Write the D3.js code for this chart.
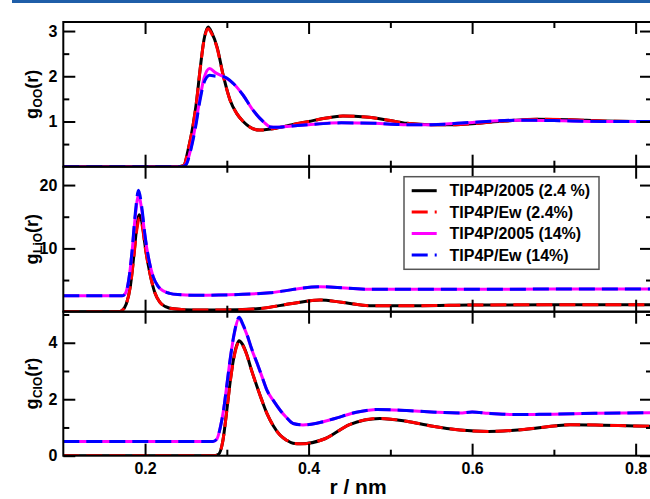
<!DOCTYPE html>
<html>
<head>
<meta charset="utf-8">
<script src="https://cdn.jsdelivr.net/npm/d3@7"></script>
<style>
  html, body { margin: 0; padding: 0; background: #fff; }
  svg { display: block; font-family: "Liberation Sans", Arial, sans-serif; font-weight: bold; }
</style>
</head>
<body>
<svg id="chart" width="650" height="499"></svg>
<script>
// g_OO(r)
const ooR24 = [0.10, 0.240, 0.247, 0.253, 0.259, 0.263, 0.267, 0.272, 0.277, 0.282, 0.288, 0.296, 0.304, 0.312, 0.320, 0.328, 0.340, 0.360, 0.380, 0.400, 0.420, 0.442, 0.470, 0.500, 0.520, 0.550, 0.580, 0.600, 0.640, 0.680, 0.720, 0.760, 0.800, 0.820];
const ooTip2005_24 = [0, 0, 0.02, 0.40, 0.95, 1.45, 2.10, 2.80, 3.09, 2.95, 2.65, 1.99, 1.47, 1.18, 1.00, 0.88, 0.81, 0.85, 0.93, 1.00, 1.07, 1.12, 1.10, 1.02, 0.96, 0.93, 0.93, 0.95, 1.01, 1.05, 1.04, 1.01, 1.00, 1.00];
const ooEw_24 = [0, 0, 0.02, 0.40, 0.95, 1.45, 2.10, 2.78, 3.05, 2.92, 2.63, 1.98, 1.47, 1.18, 1.00, 0.88, 0.81, 0.85, 0.93, 1.00, 1.07, 1.12, 1.10, 1.02, 0.96, 0.93, 0.93, 0.95, 1.01, 1.05, 1.04, 1.01, 1.00, 1.00];
const ooR14 = [0.10, 0.245, 0.250, 0.256, 0.262, 0.267, 0.272, 0.279, 0.286, 0.296, 0.308, 0.320, 0.332, 0.345, 0.353, 0.360, 0.380, 0.400, 0.440, 0.480, 0.520, 0.550, 0.600, 0.660, 0.700, 0.760, 0.820];
const ooTip2005_14 = [0, 0, 0.05, 0.40, 0.95, 1.50, 1.95, 2.17, 2.08, 1.99, 1.84, 1.58, 1.25, 0.99, 0.88, 0.87, 0.90, 0.93, 0.97, 0.96, 0.93, 0.93, 0.98, 1.03, 1.02, 1.00, 1.00];
const ooEw_14 = [0, 0, 0.04, 0.38, 0.90, 1.45, 1.85, 2.02, 2.00, 1.99, 1.84, 1.58, 1.25, 0.99, 0.88, 0.87, 0.90, 0.93, 0.97, 0.96, 0.93, 0.93, 0.98, 1.03, 1.02, 1.00, 1.00];

// g_LiO(r)
const lioR24 = [0.10, 0.168, 0.172, 0.177, 0.182, 0.186, 0.190, 0.193, 0.197, 0.200, 0.206, 0.212, 0.218, 0.225, 0.235, 0.260, 0.290, 0.340, 0.380, 0.414, 0.440, 0.475, 0.536, 0.597, 0.700, 0.820];
const lioTip2005_24 = [0, 0, 0.2, 1.2, 4.0, 8.5, 13.5, 15.3, 13.5, 10.5, 6.0, 3.0, 1.5, 0.8, 0.45, 0.25, 0.26, 0.5, 1.3, 1.84, 1.5, 0.95, 0.95, 1.05, 1.1, 1.1];
const lioEw_24 = [0, 0, 0.2, 1.2, 4.0, 8.3, 13.0, 14.8, 13.2, 10.3, 6.0, 3.0, 1.5, 0.8, 0.45, 0.25, 0.26, 0.5, 1.3, 1.84, 1.5, 0.95, 0.95, 1.05, 1.1, 1.1];
const lioR14 = [0.10, 0.172, 0.176, 0.180, 0.184, 0.188, 0.192, 0.196, 0.200, 0.205, 0.210, 0.216, 0.222, 0.230, 0.240, 0.260, 0.290, 0.353, 0.414, 0.475, 0.536, 0.600, 0.700, 0.820];
const lioTip2005_14 = [2.5, 2.5, 2.9, 5.0, 9.3, 15.0, 18.4, 16.0, 11.8, 8.0, 5.5, 4.0, 3.3, 2.9, 2.7, 2.6, 2.63, 3.0, 3.95, 3.53, 3.53, 3.55, 3.57, 3.58];
const lioEw_14 = [2.5, 2.5, 2.9, 5.0, 9.5, 15.5, 19.2, 16.5, 12.0, 8.0, 5.5, 4.0, 3.3, 2.9, 2.7, 2.6, 2.63, 3.0, 3.95, 3.53, 3.53, 3.55, 3.57, 3.58];

// g_ClO(r)
const cloR24 = [0.10, 0.285, 0.290, 0.295, 0.300, 0.304, 0.308, 0.312, 0.315, 0.319, 0.324, 0.330, 0.337, 0.343, 0.349, 0.357, 0.365, 0.373, 0.381, 0.390, 0.420, 0.450, 0.487, 0.520, 0.550, 0.585, 0.620, 0.660, 0.700, 0.720, 0.760, 0.800, 0.820];
const cloTip2005_24 = [0, 0, 0.05, 0.5, 1.62, 2.6, 3.39, 3.9, 4.07, 3.95, 3.62, 3.05, 2.44, 1.95, 1.5, 1.05, 0.73, 0.55, 0.44, 0.42, 0.6, 1.1, 1.32, 1.22, 1.05, 0.91, 0.86, 0.92, 1.05, 1.1, 1.08, 1.05, 1.04];
const cloEw_24 = [0, 0, 0.05, 0.5, 1.6, 2.58, 3.36, 3.87, 4.04, 3.93, 3.6, 3.04, 2.44, 1.95, 1.5, 1.05, 0.73, 0.55, 0.44, 0.42, 0.6, 1.1, 1.32, 1.22, 1.05, 0.91, 0.86, 0.92, 1.05, 1.1, 1.08, 1.05, 1.04];
const cloR14 = [0.10, 0.283, 0.288, 0.292, 0.296, 0.300, 0.304, 0.309, 0.315, 0.320, 0.324, 0.330, 0.337, 0.343, 0.349, 0.357, 0.365, 0.373, 0.381, 0.393, 0.410, 0.430, 0.460, 0.484, 0.520, 0.550, 0.585, 0.600, 0.620, 0.650, 0.700, 0.750, 0.820];
const cloTip2005_14 = [0.5, 0.5, 0.6, 1.0, 1.62, 2.5, 3.39, 4.3, 4.86, 4.6, 4.33, 3.8, 3.27, 2.8, 2.32, 1.95, 1.62, 1.35, 1.14, 1.09, 1.15, 1.3, 1.55, 1.64, 1.6, 1.55, 1.51, 1.55, 1.5, 1.46, 1.47, 1.5, 1.52];
const cloEw_14 = [0.5, 0.5, 0.6, 1.0, 1.62, 2.5, 3.4, 4.33, 4.9, 4.63, 4.35, 3.82, 3.28, 2.8, 2.32, 1.95, 1.62, 1.35, 1.14, 1.09, 1.15, 1.3, 1.55, 1.64, 1.6, 1.55, 1.51, 1.55, 1.5, 1.46, 1.47, 1.5, 1.52];

const legendLabels = ['TIP4P/2005 (2.4 %)', 'TIP4P/Ew (2.4%)', 'TIP4P/2005 (14%)', 'TIP4P/Ew (14%)'];
const seriesColors = ['#000000', '#ff0000', '#ff00ff', '#0000ff'];
const seriesDashed = [false, true, false, true];

const xMajor = [0.2, 0.4, 0.6, 0.8];
const xMinor = [0.3, 0.5, 0.7];

const panels = [
    { sub: 'OO', top: 22, bottom: 166.7, domain: [0, 3.2], major: [1, 2, 3], minor: [0.5, 1.5, 2.5],
      series: [[ooR24, ooTip2005_24], [ooR24, ooEw_24], [ooR14, ooTip2005_14], [ooR14, ooEw_14]] },
    { sub: 'LiO', top: 166.7, bottom: 311.7, domain: [0, 22.9], major: [10, 20], minor: [5, 15],
      series: [[lioR24, lioTip2005_24], [lioR24, lioEw_24], [lioR14, lioTip2005_14], [lioR14, lioEw_14]] },
    { sub: 'ClO', top: 311.7, bottom: 455.7, domain: [0, 5.1], major: [0, 2, 4], minor: [1, 3, 5],
      series: [[cloR24, cloTip2005_24], [cloR24, cloEw_24], [cloR14, cloTip2005_14], [cloR14, cloEw_14]] }
];

const left = 63.3, right = 652;
const svg = d3.select('#chart');

// header rule of the page
svg.append('rect')
    .attr('x', 12).attr('y', 0)
    .attr('width', 638).attr('height', 3)
    .attr('fill', '#1f5ea8');

const xScale = d3.scaleLinear().domain([0.1, 0.82]).range([left, right]);
const dash = '16,7';

const styleAxis = g => {
    g.select('.domain').remove();
    g.selectAll('.tick line').attr('stroke', '#000').attr('stroke-width', 2);
    g.selectAll('.tick text').attr('fill', '#000').style('font-size', '16px').style('font-weight', 'bold');
};

panels.forEach((p, pi) => {
    const yScale = d3.scaleLinear().domain(p.domain).range([p.bottom, p.top]);
    const isLast = pi === panels.length - 1;

    svg.append('clipPath').attr('id', `clip${pi}`)
        .append('rect')
        .attr('x', left).attr('y', p.top)
        .attr('width', right - left).attr('height', p.bottom - p.top);

    const line = d3.line()
        .x(d => xScale(d[0]))
        .y(d => yScale(d[1]))
        .curve(d3.curveMonotoneX);

    const lines = svg.append('g').attr('clip-path', `url(#clip${pi})`);
    p.series.forEach((s, si) => {
        const pts = s[0].map((r, i) => [r, s[1][i]]);
        lines.append('path')
            .datum(pts)
            .attr('fill', 'none')
            .attr('stroke', seriesColors[si])
            .attr('stroke-width', 3)
            .attr('stroke-dasharray', seriesDashed[si] ? dash : null)
            .attr('d', line);
    });

    // y axes: ticks inward on both sides
    svg.append('g')
        .attr('transform', `translate(${left},0)`)
        .call(d3.axisLeft(yScale).tickValues(p.major).tickSizeInner(-12).tickSizeOuter(0).tickPadding(6).tickFormat(d3.format('d')))
        .call(styleAxis);
    svg.append('g')
        .attr('transform', `translate(${left},0)`)
        .call(d3.axisLeft(yScale).tickValues(p.minor).tickSizeInner(-6).tickSizeOuter(0).tickFormat(''))
        .call(styleAxis);
    svg.append('g')
        .attr('transform', `translate(${right},0)`)
        .call(d3.axisRight(yScale).tickValues(p.major).tickSizeInner(-12).tickSizeOuter(0).tickFormat(''))
        .call(styleAxis);
    svg.append('g')
        .attr('transform', `translate(${right},0)`)
        .call(d3.axisRight(yScale).tickValues(p.minor).tickSizeInner(-6).tickSizeOuter(0).tickFormat(''))
        .call(styleAxis);

    // x ticks on bottom and top of every panel
    svg.append('g')
        .attr('transform', `translate(0,${p.bottom})`)
        .call(d3.axisBottom(xScale).tickValues(xMajor).tickSizeInner(-12).tickSizeOuter(0).tickPadding(7)
            .tickFormat(isLast ? d3.format('.1f') : ''))
        .call(styleAxis);
    svg.append('g')
        .attr('transform', `translate(0,${p.bottom})`)
        .call(d3.axisBottom(xScale).tickValues(xMinor).tickSizeInner(-6).tickSizeOuter(0).tickFormat(''))
        .call(styleAxis);
    svg.append('g')
        .attr('transform', `translate(0,${p.top})`)
        .call(d3.axisTop(xScale).tickValues(xMajor).tickSizeInner(-12).tickSizeOuter(0).tickFormat(''))
        .call(styleAxis);
    svg.append('g')
        .attr('transform', `translate(0,${p.top})`)
        .call(d3.axisTop(xScale).tickValues(xMinor).tickSizeInner(-6).tickSizeOuter(0).tickFormat(''))
        .call(styleAxis);

    svg.append('rect')
        .attr('x', left).attr('y', p.top)
        .attr('width', right - left).attr('height', p.bottom - p.top)
        .attr('fill', 'none')
        .attr('stroke', '#000')
        .attr('stroke-width', 2);

    // y label g_xx(r)
    const label = svg.append('text')
        .attr('transform', `translate(38,${(p.top + p.bottom) / 2}) rotate(-90)`)
        .attr('text-anchor', 'middle')
        .attr('fill', '#000')
        .style('font-size', '18px');
    label.append('tspan').text('g');
    label.append('tspan').attr('dy', 4).attr('dx', 0.5).style('font-size', '12px').text(p.sub);
    label.append('tspan').attr('dy', -4).text('(r)');
});

// legend
const legend = svg.append('g');
legend.append('rect')
    .attr('x', 404).attr('y', 176.7)
    .attr('width', 195).attr('height', 92.6)
    .attr('fill', '#fff')
    .attr('stroke', '#555')
    .attr('stroke-width', 1.5);

legendLabels.forEach((name, i) => {
    const y = 190.7 + i * 21.4;
    legend.append('line')
        .attr('x1', 411.7).attr('x2', 436.7)
        .attr('y1', y).attr('y2', y)
        .attr('stroke', seriesColors[i])
        .attr('stroke-width', 3)
        .attr('stroke-dasharray', seriesDashed[i] ? dash : null);
    legend.append('text')
        .attr('x', 449.5).attr('y', y)
        .attr('dy', '0.36em')
        .attr('fill', '#000')
        .style('font-size', '16px')
        .text(name);
});

svg.append('text')
    .attr('x', 358).attr('y', 494)
    .attr('text-anchor', 'middle')
    .attr('fill', '#000')
    .style('font-size', '21px')
    .text('r / nm');
</script>
</body>
</html>
